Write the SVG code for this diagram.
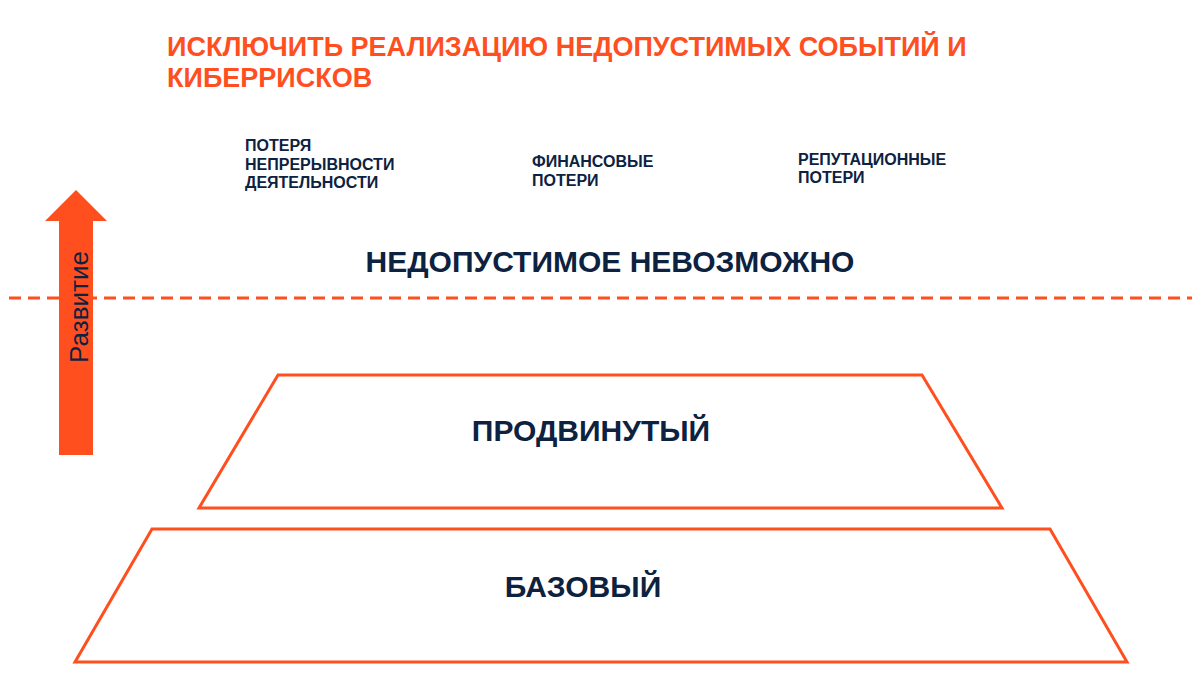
<svg xmlns="http://www.w3.org/2000/svg" width="1200" height="680" viewBox="0 0 1200 680">
<style>
.o{fill:none;stroke:#FF4F1F;stroke-width:3}
.t{font-family:"Liberation Sans",Arial,sans-serif;font-weight:bold;fill:#0D2240}
.s{font-size:16px}
.b{font-size:30px}
</style>
<rect width="1200" height="680" fill="#fff"/>
<text x="167" y="56" font-family="Liberation Sans,Arial,sans-serif" font-weight="bold" font-size="27" fill="#FF4F1F">ИСКЛЮЧИТЬ РЕАЛИЗАЦИЮ НЕДОПУСТИМЫХ СОБЫТИЙ И</text>
<text x="167" y="87" font-family="Liberation Sans,Arial,sans-serif" font-weight="bold" font-size="27" fill="#FF4F1F">КИБЕРРИСКОВ</text>
<g id="loss1" class="t s"><text x="245" y="151">ПОТЕРЯ</text><text x="245" y="170">НЕПРЕРЫВНОСТИ</text><text x="245" y="188">ДЕЯТЕЛЬНОСТИ</text></g>
<g id="loss2" class="t s"><text x="532" y="167">ФИНАНСОВЫЕ</text><text x="532" y="186">ПОТЕРИ</text></g>
<g id="loss3" class="t s"><text x="798" y="165">РЕПУТАЦИОННЫЕ</text><text x="798" y="183">ПОТЕРИ</text></g>
<text class="t" x="610" y="272" font-size="30" text-anchor="middle">НЕДОПУСТИМОЕ НЕВОЗМОЖНО</text>
<g id="arrow"><polygon points="59,455 93,455 93,221 107,221 76,190 45,221 59,221" fill="#FF4F1F"/>
<text x="0" y="0" transform="translate(88,307) rotate(-90)" text-anchor="middle" font-family="Liberation Sans,Arial,sans-serif" font-size="26" fill="#0D2240">Развитие</text></g>
<g id="connectors"><line x1="9" y1="298" x2="1192" y2="298" stroke="#FF4F1F" stroke-width="3" stroke-dasharray="12,7"/></g>
<g id="advanced"><polygon class="o" points="278,375 922,375 1002,508 199,508"/><text class="t b" x="591" y="441" text-anchor="middle">ПРОДВИНУТЫЙ</text></g>
<g id="basic"><polygon class="o" points="152,529 1050,529 1127,662 75,662"/><text class="t b" x="583" y="597" text-anchor="middle">БАЗОВЫЙ</text></g>
</svg>
